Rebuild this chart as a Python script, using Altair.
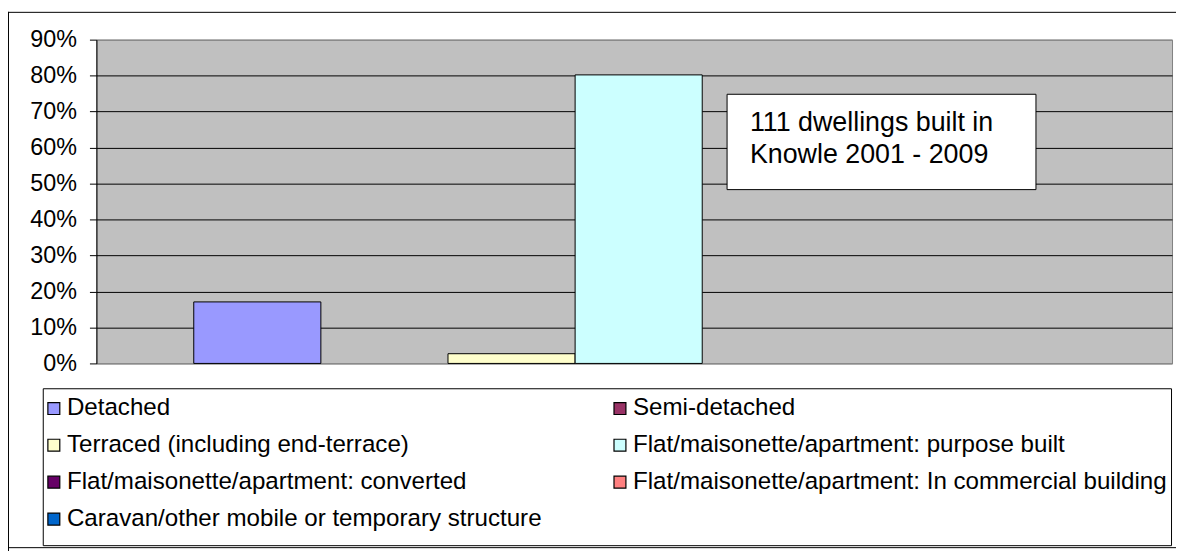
import altair as alt
import pandas as pd

# ---- data ----
categories = [
    "Detached",
    "Semi-detached",
    "Terraced (including end-terrace)",
    "Flat/maisonette/apartment: purpose built",
    "Flat/maisonette/apartment: converted",
    "Flat/maisonette/apartment: In commercial building",
    "Caravan/other mobile or temporary structure",
]
shares = [0.171, 0.0, 0.027, 0.802, 0.0, 0.0, 0.0]
colors = ["#9999FF", "#993366", "#FFFFCC", "#CCFFFF", "#660066", "#FF8080", "#0066CC"]
y_ticks = [0.0, 0.1, 0.2, 0.3, 0.4, 0.5, 0.6, 0.7, 0.8, 0.9]
annotation_lines = ["111 dwellings built in", "Knowle 2001 - 2009"]
group_label = ""

FONT = "Liberation Sans"
W, H = 1083, 326

df = pd.DataFrame({
    "group": [group_label] * len(categories),
    "type": categories,
    "share": shares,
})

bars = alt.Chart(df).transform_filter("datum.share > 0").mark_bar(
    stroke="black", strokeWidth=1
).encode(
    x=alt.X("group:N", axis=None,
            scale=alt.Scale(paddingInner=0, paddingOuter=0.1044, align=0.524)),
    xOffset=alt.XOffset("type:N", sort=categories,
                        scale=alt.Scale(domain=categories, paddingInner=0, paddingOuter=0)),
    y=alt.Y("share:Q",
            scale=alt.Scale(domain=[0, 0.9], nice=False, zero=True),
            axis=alt.Axis(
                values=y_ticks, format=".0%", title=None,
                labelFont=FONT, labelFontSize=23.5, labelColor="black",
                labelPadding=13, tickSize=7, tickColor="black", tickWidth=1,
                domainColor="black", domainWidth=1,
                grid=True, gridWidth=1,
                gridColor={"condition": {"test": "datum.value <= 0 || datum.value >= 0.9",
                                         "value": "#808080"},
                           "value": "black"},
            )),
    color=alt.Color("type:N", sort=categories,
                    scale=alt.Scale(domain=categories, range=colors),
                    legend=alt.Legend(
                        title=None, orient="none", legendX=-55, legendY=359,
                        direction="horizontal",
                        columns=2, columnPadding=66, rowPadding=12.2,
                        symbolType="square", symbolSize=144,
                        symbolStrokeColor="black", symbolStrokeWidth=1.2,
                        symbolOpacity=1,
                        labelFont=FONT, labelFontSize=24.3, labelColor="black",
                        labelOffset=1, labelLimit=800, padding=0,
                    )),
)

one = pd.DataFrame({"k": [0]})

frame_top = alt.Chart(one).mark_rule(color="black", strokeWidth=1).encode(
    x=alt.value(-89), x2=alt.value(1200), y=alt.value(-27.5)
)
frame_left = alt.Chart(one).mark_rule(color="black", strokeWidth=1).encode(
    x=alt.value(-88.5), y=alt.value(-28), y2=alt.value(600)
)
frame_bottom = alt.Chart(one).mark_rule(color="black", strokeWidth=1).encode(
    x=alt.value(-89), x2=alt.value(1200), y=alt.value(511.5)
)

legend_frame = alt.Chart(one).mark_rect(fill="white", stroke="black", strokeWidth=1).encode(
    x=alt.value(-53.5), x2=alt.value(1082.5), y=alt.value(351.5), y2=alt.value(509.5)
)

note_box = alt.Chart(one).mark_rect(fill="white", stroke="black", strokeWidth=1).encode(
    x=alt.value(635), x2=alt.value(946), y=alt.value(55), y2=alt.value(151)
)

note_text = alt.Chart(pd.DataFrame({"t": [annotation_lines]})).mark_text(
    align="left", baseline="alphabetic", font=FONT, fontSize=27, lineHeight=32, color="black"
).encode(
    x=alt.value(658), y=alt.value(92), text="t"
)

chart = alt.layer(frame_top, frame_left, frame_bottom, legend_frame, bars, note_box, note_text).properties(
    width=W, height=H,
    autosize=alt.AutoSizeParams(type="none"),
    padding={"left": 89, "top": 30, "right": 4, "bottom": 187},
    background="white",
).configure_view(fill="#C0C0C0", stroke="#808080", strokeWidth=1)

chart.save("out.html", embed_options={"renderer": "svg", "actions": False})
